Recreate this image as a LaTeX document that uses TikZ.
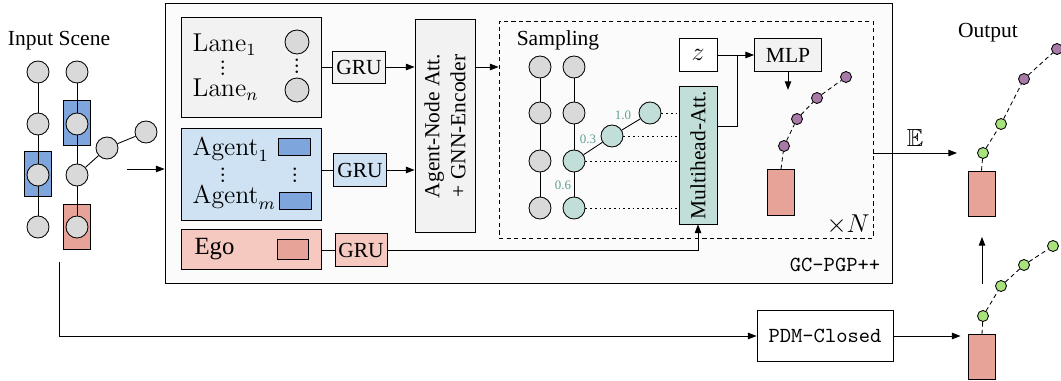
\documentclass[tikz,border=0pt]{standalone}
\usepackage{amsmath}
\usepackage{amssymb}
\usepackage[no-math]{fontspec}
\setmainfont{Liberation Serif}
\usetikzlibrary{arrows.meta}

\definecolor{nodegray}{RGB}{217,217,217}
\definecolor{agentblue}{RGB}{126,166,220}
\definecolor{egored}{RGB}{232,163,152}
\definecolor{lanebg}{RGB}{242,242,242}
\definecolor{agentbg}{RGB}{207,226,243}
\definecolor{egobg}{RGB}{245,200,192}
\definecolor{mainbg}{RGB}{251,251,251}
\definecolor{samplteal}{RGB}{194,222,216}
\definecolor{weightteal}{RGB}{94,158,147}
\definecolor{trajpurple}{RGB}{168,122,168}
\definecolor{trajgreen}{RGB}{168,226,125}

\newcommand{\px}{0.465pt}
\newcommand{\tightvdots}{\vbox{\baselineskip=2.8pt\lineskiplimit=0pt\hbox{$.$}\hbox{$.$}\hbox{$.$}}}

\tikzset{
  arr/.style={-{Triangle[length=4pt,width=3pt]}},
  gnode/.style={circle, draw, fill=nodegray, inner sep=0pt, minimum size=22*\px},
  tnode/.style={gnode, fill=samplteal},
  blk/.style={draw, inner sep=0pt},
  car/.style={draw, inner sep=0pt, minimum width=27*\px, minimum height=45*\px},
  trajpt/.style={circle, draw, inner sep=0pt, minimum size=11*\px},
  traj/.style={dash pattern=on 2pt off 1.5pt},
  big/.style={font=\fontsize{11.5}{13}\selectfont},
  vdotsnode/.style={inner sep=0pt, font=\fontsize{11.5}{13}\selectfont},
  wt/.style={font=\fontsize{6}{6.5}\selectfont, text=weightteal, inner sep=0pt},
}

\begin{document}
\begin{tikzpicture}[x=\px, y=-\px]
  \useasboundingbox (0,0) rectangle (1061,381);

  % input scene
  \node (inlabel) at (59,41) {Input Scene};
  \node[car, fill=agentblue] (ia1) at (38,174) {};
  \node[car, fill=agentblue] (ia2) at (77,123) {};
  \node[car, fill=egored] (iego) at (77,227) {};
  \foreach \i/\y in {1/72,2/124,3/175,4/227} {
    \node[gnode] (l\i) at (38,\y) {};
    \node[gnode] (r\i) at (77,\y) {};
  }
  \node[gnode] (b1) at (107,148) {};
  \node[gnode] (b2) at (146,132) {};
  \draw (l1) -- (l2) -- (l3) -- (l4);
  \draw (r1) -- (r2) -- (r3) -- (r4);
  \draw (r3) -- (b1) -- (b2);

  % GC-PGP++ block
  \node[draw, fill=mainbg, minimum width=727*\px, minimum height=280*\px] (gc) at (528.5,143) {};
  \node[font=\ttfamily] (gclabel) at (835,265) {GC-PGP++};
  \coordinate (inarr) at (127,169);
  \draw[arr] (inarr) -- (inarr -| gc.west);

  % lanes
  \node[blk, fill=lanebg, minimum width=140*\px, minimum height=100*\px] (lanes) at (251,67) {};
  \node[big, anchor=west] (lane1) at (185,45) {$\mathrm{Lane}_1$};
  \node[vdotsnode] (lanedots) at (223,68) {\tightvdots};
  \node[big, anchor=west] (lanen) at (185,90) {$\mathrm{Lane}_n$};
  \node[gnode, minimum size=24*\px] (lc1) at (297,42) {};
  \node[gnode, minimum size=24*\px] (lc2) at (297,90) {};
  \node[vdotsnode] (lcdots) at (297,66) {\tightvdots};

  % agents
  \node[blk, fill=agentbg, minimum width=140*\px, minimum height=92*\px] (agents) at (251,174) {};
  \node[big, anchor=west] (agent1) at (185,150) {$\mathrm{Agent}_1$};
  \node[vdotsnode] (agentdots) at (223,175) {\tightvdots};
  \node[big, anchor=west] (agentm) at (185,198) {$\mathrm{Agent}_m$};
  \node[car, fill=agentblue, minimum width=32*\px, minimum height=17*\px] (ac1) at (294,147) {};
  \node[car, fill=agentblue, minimum width=32*\px, minimum height=17*\px] (ac2) at (295,201) {};
  \node[vdotsnode] (acdots) at (295,175) {\tightvdots};

  % ego
  \node[blk, fill=egobg, minimum width=140*\px, minimum height=40*\px] (ego) at (251,249) {};
  \node[big, anchor=west] (egolabel) at (187,249) {Ego};
  \node[car, fill=egored, minimum width=31*\px, minimum height=20*\px] (ec) at (293,249) {};

  % GRUs
  \node[blk, fill=lanebg, minimum width=53*\px, minimum height=32*\px] (gru1) at (359,67) {GRU};
  \node[blk, fill=agentbg, minimum width=53*\px, minimum height=33*\px] (gru2) at (360,170) {GRU};
  \node[blk, fill=egobg, minimum width=52*\px, minimum height=33*\px] (gru3) at (361,250) {GRU};
  \draw (lanes.east |- gru1) -- (gru1);
  \draw (agents.east |- gru2) -- (gru2);
  \draw (ego.east |- gru3) -- (gru3);

  % encoder
  \node[blk, fill=lanebg, minimum width=60*\px, minimum height=213*\px] (enc) at (445,126) {};
  \node[rotate=90, align=center] (enctext) at (enc) {Agent-Node Att.\\+ GNN-Encoder};
  \draw[arr] (gru1) -- (enc.west |- gru1);
  \draw[arr] (gru2) -- (enc.west |- gru2);

  % sampling
  \node[draw, dash pattern=on 2pt off 1.5pt, minimum width=374*\px, minimum height=217*\px] (samp) at (686,129.5) {};
  \draw[arr] (enc.east |- gru1) -- (samp.west |- gru1);
  \node (samplabel) at (558,40) {Sampling};
  \node[big] (times) at (848,225) {$\times N$};
  \foreach \i/\y in {1/67,2/113,3/161,4/208} {
    \node[gnode] (s\i) at (540,\y) {};
  }
  \node[gnode] (u1) at (574,67) {};
  \node[gnode] (u2) at (574,113) {};
  \node[tnode] (u3) at (574,161) {};
  \node[tnode] (u4) at (574,208) {};
  \node[tnode] (t1) at (612,136) {};
  \node[tnode] (t2) at (650,113) {};
  \draw (s1) -- (s2) -- (s3) -- (s4);
  \draw (u1) -- (u2) -- (u3) -- (u4);
  \draw (u3) -- (t1) -- (t2);
  \node[wt] (w1) at (623,115) {1.0};
  \node[wt] (w2) at (588,139) {0.3};
  \node[wt] (w3) at (563,185) {0.6};

  % attention and decoder
  \node[blk, fill=samplteal, minimum width=38*\px, minimum height=138*\px] (mha) at (698,155) {};
  \node[rotate=90] (mhatext) at (mha) {Multihead-Att.};
  \foreach \n in {t2,t1,u3,u4}
    \draw[dash pattern=on 0.8pt off 1.4pt] (\n) -- (mha.west |- \n);
  \node[blk, fill=white, minimum width=38*\px, minimum height=33*\px, font=\fontsize{13}{14}\selectfont] (z) at (698,55) {$z$};
  \node[blk, fill=lanebg, minimum width=67*\px, minimum height=33*\px] (mlp) at (788,55) {MLP};
  \draw[arr] (z) -- (mlp);
  \coordinate (merge) at (737,55);
  \draw (mha.east |- 0,126) -| (merge);
  \draw[arr] (mlp.south) -- ++(0,18);
  \draw[arr] (gru3) -| (mha.south);

  % sampled trajectory
  \node[car, fill=egored, minimum height=46*\px] (pcar) at (781,192.5) {};
  \node[trajpt, fill=trajpurple] (p1) at (784,146) {};
  \node[trajpt, fill=trajpurple] (p2) at (797,119) {};
  \node[trajpt, fill=trajpurple] (p3) at (817,98) {};
  \node[trajpt, fill=trajpurple] (p4) at (846,77) {};
  \draw[traj] (pcar.north) -- (p1) -- (p2) -- (p3) -- (p4);

  % output
  \coordinate (eend) at (957,153);
  \draw[arr] (samp.east |- eend) -- (eend);
  \node[big] (elabel) at (915,138) {$\mathbb{E}$};
  \node (outlabel) at (988,33) {Output};
  \node[car, fill=egored] (oc1) at (981.5,193.5) {};
  \node[trajpt, fill=trajgreen] (g1) at (983,153) {};
  \node[trajpt, fill=trajgreen] (g2) at (1001,124) {};
  \node[trajpt, fill=trajpurple] (v1) at (1024,79) {};
  \node[trajpt, fill=trajpurple] (v2) at (1057,49) {};
  \draw[traj] (oc1.north) -- (g1) -- (g2) -- (v1) -- (v2);
  \coordinate (upstart) at (982,284);
  \draw[arr] (upstart) -- ++(0,-47);

  % PDM-Closed
  \node[blk, fill=white, minimum width=136*\px, minimum height=51*\px, font=\ttfamily] (pdm) at (825,336) {PDM-Closed};
  \coordinate (inleft) at (59,262);
  \draw[arr] (inleft) |- (pdm);
  \node[car, fill=egored] (oc2) at (982,357) {};
  \node[trajpt, fill=trajgreen] (h1) at (983,316) {};
  \node[trajpt, fill=trajgreen] (h2) at (1001,286) {};
  \node[trajpt, fill=trajgreen] (h3) at (1024,265) {};
  \node[trajpt, fill=trajgreen] (h4) at (1053,246) {};
  \draw[traj] (oc2.north) -- (h1) -- (h2) -- (h3) -- (h4);
  \draw[arr, shorten >=3.5pt] (pdm) -- (pdm -| oc2.west);
\end{tikzpicture}
\end{document}
